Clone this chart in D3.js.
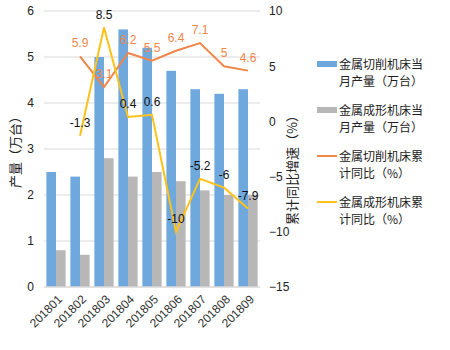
<!DOCTYPE html>
<html>
<head>
<meta charset="utf-8">
<script src="https://cdn.jsdelivr.net/npm/d3@7"></script>
<style>
  html, body { margin: 0; padding: 0; background: #fff; }
  svg { display: block; font-family: "Noto Sans CJK SC", "Liberation Sans", sans-serif; }
</style>
</head>
<body>
<div id="chart"></div>
<script>
// 金属切削 / 成形机床：当月产量（柱）+ 累计同比（折线，右轴）
const months = ["201801", "201802", "201803", "201804", "201805", "201806", "201807", "201808", "201809"];
const cutOutput = [2.5, 2.4, 5.0, 5.6, 5.2, 4.7, 4.3, 4.2, 4.3];
const formOutput = [0.8, 0.7, 2.8, 2.4, 2.5, 2.3, 2.1, 2.0, 2.0];
// 累计同比从 201802 开始
const cutYoY = [null, 5.9, 3.1, 6.2, 5.5, 6.4, 7.1, 5, 4.6];
const formYoY = [null, -1.3, 8.5, 0.4, 0.6, -10, -5.2, -6, -7.9];
const leftTicks = [0, 1, 2, 3, 4, 5, 6];
const rightTicks = [-15, -10, -5, 0, 5, 10];
const legendItems = [
  { lines: ["金属切削机床当", "月产量（万台）"], type: "bar", color: "#6FA8DC" },
  { lines: ["金属成形机床当", "月产量（万台）"], type: "bar", color: "#B7B7B7" },
  { lines: ["金属切削机床累", "计同比（%）"], type: "line", color: "#F0864A" },
  { lines: ["金属成形机床累", "计同比（%）"], type: "line", color: "#FFC21A" },
];

const W = 450, H = 350, ML = 44, MR = 190, TOP = 11, BOT = 63;
const C = { blue: "#6FA8DC", gray: "#B7B7B7", orange: "#F0864A", yellow: "#FFC21A", grid: "#D9D9D9", ink: "#222" };

const svg = d3.select("#chart").append("svg").attr("width", W).attr("height", H);

const x = d3.scaleBand().domain(months).range([ML, W - MR]).paddingInner(0.2).paddingOuter(0.1);
const band = d3.scaleBand().domain(months).range([ML, W - MR]);
const xs = d3.scaleBand().domain(["cut", "form"]).range([0, x.bandwidth()]);
const y = d3.scaleLinear().domain([0, 6]).range([H - BOT, TOP]);
const y2 = d3.scaleLinear().domain([-15, 10]).range([H - BOT, TOP]);
const cx = m => band(m) + band.bandwidth() / 2;

// 网格
svg.append("g").selectAll("line").data(leftTicks.filter(v => v > 0)).join("line")
  .attr("x1", ML).attr("x2", W - MR)
  .attr("y1", d => y(d)).attr("y2", d => y(d))
  .attr("stroke", C.grid).attr("stroke-width", 1);

// 左轴
const gl = svg.append("g").attr("transform", `translate(${ML},0)`)
  .call(d3.axisLeft(y).tickValues(leftTicks).tickFormat(d3.format("d")).tickSize(0).tickPadding(10));
gl.select(".domain").remove();
gl.selectAll("text").attr("font-size", 12).attr("fill", C.ink).attr("font-family", "Liberation Sans, sans-serif");

// 右轴
const gr = svg.append("g").attr("transform", `translate(${W - MR},0)`)
  .call(d3.axisRight(y2).tickValues(rightTicks).tickFormat(d3.format("d")).tickSize(0).tickPadding(9));
gr.select(".domain").remove();
gr.selectAll("text").attr("font-size", 12).attr("fill", C.ink).attr("font-family", "Liberation Sans, sans-serif");

// 柱
const groups = svg.append("g").selectAll("g").data(months).join("g")
  .attr("transform", m => `translate(${x(m)},0)`);
groups.append("rect")
  .attr("x", xs("cut")).attr("width", xs.bandwidth())
  .attr("y", (m, i) => y(cutOutput[i])).attr("height", (m, i) => y(0) - y(cutOutput[i]))
  .attr("fill", C.blue);
groups.append("rect")
  .attr("x", xs("form")).attr("width", xs.bandwidth())
  .attr("y", (m, i) => y(formOutput[i])).attr("height", (m, i) => y(0) - y(formOutput[i]))
  .attr("fill", C.gray);

// 底部轴线
svg.append("line").attr("x1", ML).attr("x2", W - MR).attr("y1", y(0)).attr("y2", y(0))
  .attr("stroke", C.grid).attr("stroke-width", 1.5);

// x 标签
const gx = svg.append("g").attr("transform", `translate(0,${y(0)})`)
  .call(d3.axisBottom(band).tickSize(0).tickPadding(0));
gx.select(".domain").remove();
gx.selectAll("text")
  .attr("font-size", 12).attr("fill", "#333").attr("font-family", "Liberation Sans, sans-serif")
  .attr("text-anchor", "end").attr("dy", 0)
  .attr("transform", "translate(7,13) rotate(-45)");

// 折线
const line = d3.line().defined(d => d[1] != null).x(d => cx(d[0])).y(d => y2(d[1]));
function drawSeries(vals, col, labCol) {
  const pts = months.map((m, i) => [m, vals[i]]);
  svg.append("path").attr("d", line(pts)).attr("fill", "none")
    .attr("stroke", col).attr("stroke-width", 2).attr("stroke-linejoin", "miter");
  svg.append("g").selectAll("text").data(pts.filter(d => d[1] != null)).join("text")
    .attr("x", d => cx(d[0])).attr("y", d => y2(d[1]) - 9)
    .attr("text-anchor", "middle").attr("font-size", 12)
    .attr("font-family", "Liberation Sans, sans-serif")
    .attr("fill", labCol).text(d => d[1]);
}
drawSeries(cutYoY, C.orange, C.orange);
drawSeries(formYoY, C.yellow, "#111");

// 轴标题
svg.append("text").attr("transform", `translate(20,${(TOP + y(0)) / 2}) rotate(-90)`)
  .attr("text-anchor", "middle").attr("font-size", 13).attr("fill", C.ink).text("产量（万台）");
svg.append("text").attr("transform", `translate(297,${(TOP + y(0)) / 2 + 18}) rotate(-90)`)
  .attr("text-anchor", "middle").attr("font-size", 13).attr("fill", C.ink).text("累计同比增速（%）");

// 图例
const lg = svg.append("g").attr("transform", "translate(317,64)");
legendItems.forEach((it, i) => {
  const g = lg.append("g").attr("transform", `translate(0,${i * 46})`);
  if (it.type === "bar") g.append("rect").attr("x", 0).attr("y", -3).attr("width", 20).attr("height", 6).attr("fill", it.color);
  else g.append("line").attr("x1", 0).attr("x2", 20).attr("y1", 0).attr("y2", 0).attr("stroke", it.color).attr("stroke-width", 2);
  it.lines.forEach((t, k) => g.append("text").attr("x", 22).attr("y", 5 + k * 16.5)
    .attr("font-size", 12).attr("fill", C.ink).text(t));
});
</script>
</body>
</html>
